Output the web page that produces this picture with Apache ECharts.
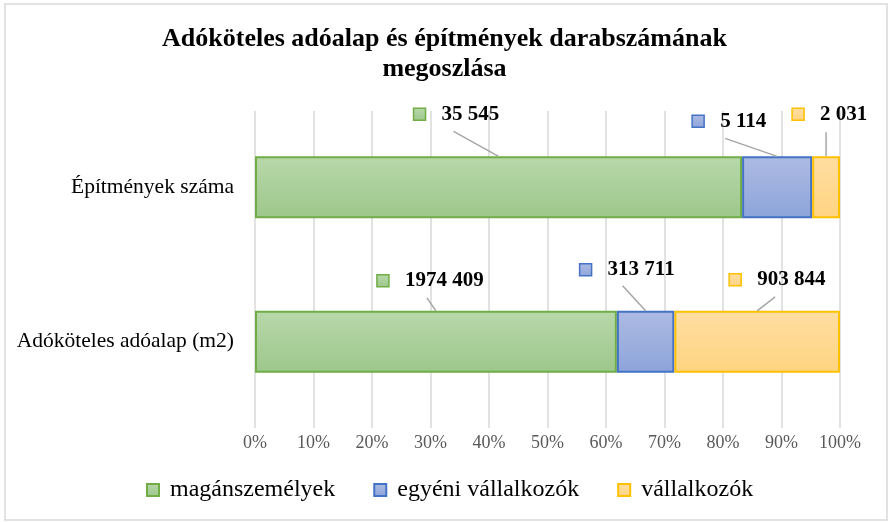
<!DOCTYPE html>
<html>
<head>
<meta charset="utf-8">
<script src="https://cdn.jsdelivr.net/npm/echarts@6/dist/echarts.min.js"></script>
<style>
  html, body { margin: 0; padding: 0; background: #fff; }
  #main { width: 889px; height: 522px; }
</style>
</head>
<body>
<div id="main"></div>
<script>
// adatok
var categories = ['Adóköteles adóalap (m2)', 'Építmények száma'];
var seriesNames = ['magánszemélyek', 'egyéni vállalkozók', 'vállalkozók'];
var maganszemelyek = [1974409, 35545];
var egyeniVallalkozok = [313711, 5114];
var vallalkozok = [903844, 2031];
var percentTicks = { min: 0, max: 100, step: 10 };

var values = [maganszemelyek, egyeniVallalkozok, vallalkozok];

// szinek
var borders = ['#70ad47', '#4472c4', '#ffc000'];
var fills = [['#b8d8aa', '#9dc78b'], ['#adbbe3', '#8da4da'], ['#ffdea2', '#ffd481']];

// cimkek helye a sav tetejehez kepest: vonal kezdete, jelolo negyzet
var calloutLayout = [
  [ { line: [-9, -13], key: [-53, -30] },
    { line: [-23, -25], key: [-60, -41] },
    { line: [18, -14], key: [-22, -31] } ],
  [ { line: [-45, -25], key: [-79, -42] },
    { line: [-52, -18], key: [-79, -35] },
    { line: [0, -24], key: [-28, -42] } ]
];

function grad(i) {
  return {
    type: 'linear', x: 0, y: 0, x2: 0, y2: 1,
    colorStops: [{ offset: 0, color: fills[i][0] }, { offset: 1, color: fills[i][1] }]
  };
}

// "### ###" formatum
function fmt(v) {
  var s = String(v);
  return s.length > 3 ? s.slice(0, -3) + ' ' + s.slice(-3) : s;
}

var totals = categories.map(function (c, ci) {
  return values.reduce(function (a, vals) { return a + vals[ci]; }, 0);
});
var pct = values.map(function (vals) {
  return vals.map(function (v, ci) { return v / totals[ci] * 100; });
});

var calloutData = [];
values.forEach(function (vals, s) {
  vals.forEach(function (v, c) {
    var before = 0;
    for (var k = 0; k < s; k++) before += pct[k][c];
    calloutData.push([before + pct[s][c] / 2, c, s, v]);
  });
});

var serif = '"Liberation Serif", "Times New Roman", serif';

var series = seriesNames.map(function (name, i) {
  return {
    name: name,
    type: 'bar',
    stack: 'total',
    xAxisIndex: 1,
    yAxisIndex: 1,
    barWidth: '40%',
    data: pct[i],
    itemStyle: { color: grad(i), borderColor: borders[i], borderWidth: 2 },
    emphasis: { disabled: true }
  };
});

series.push({
  type: 'custom',
  xAxisIndex: 1,
  yAxisIndex: 1,
  silent: true,
  z: 10,
  data: calloutData,
  renderItem: function (params, api) {
    var c = api.value(1), s = api.value(2);
    var center = api.coord([api.value(0), c]);
    var barH = api.size([0, 1])[1] * 0.4;
    var tx = center[0], ty = center[1] - barH / 2;
    var lay = calloutLayout[c][s];
    var kx = tx + lay.key[0], ky = ty + lay.key[1];
    return {
      type: 'group',
      children: [
        { type: 'line',
          shape: { x1: tx + lay.line[0], y1: ty + lay.line[1], x2: tx, y2: ty },
          style: { stroke: '#a6a6a6', lineWidth: 1.5 } },
        { type: 'rect',
          shape: { x: kx - 6, y: ky - 6, width: 12, height: 12 },
          style: { fill: grad(s), stroke: borders[s], lineWidth: 1.5 } },
        { type: 'text',
          style: { x: kx + 22, y: ky, text: fmt(api.value(3)), font: 'bold 21px ' + serif,
                   fill: '#000', align: 'left', verticalAlign: 'middle' } }
      ]
    };
  }
});

var option = {
  backgroundColor: '#fff',
  animation: false,
  title: {
    text: 'Adóköteles adóalap és építmények darabszámának\nmegoszlása',
    left: 'center',
    top: 24,
    padding: 0,
    textStyle: { fontFamily: serif, fontWeight: 'bold', fontSize: 26, lineHeight: 30, color: '#000' }
  },
  legend: {
    data: seriesNames,
    left: 146,
    top: 478,
    padding: 0,
    icon: 'rect',
    itemWidth: 12,
    itemHeight: 12,
    itemGap: 38,
    selectedMode: false,
    textStyle: { fontFamily: serif, fontSize: 24, color: '#000', padding: [0, 0, 0, 6] }
  },
  grid: [
    { left: 255, right: 49, top: 111, bottom: 94 },
    { left: 255, right: 49, top: 110, height: 309 }
  ],
  xAxis: [
    { type: 'value', gridIndex: 0, min: percentTicks.min, max: percentTicks.max, interval: percentTicks.step,
      axisLine: { show: false }, axisTick: { show: false },
      splitLine: { lineStyle: { color: '#d9d9d9', width: 1.5 } },
      axisLabel: { formatter: '{value}%', margin: 6, fontFamily: serif, fontSize: 18, color: '#595959' } },
    { type: 'value', gridIndex: 1, min: percentTicks.min, max: percentTicks.max, show: false }
  ],
  yAxis: [
    { type: 'category', gridIndex: 0, data: categories, show: false },
    { type: 'category', gridIndex: 1, data: categories,
      axisLine: { show: false }, axisTick: { show: false }, splitLine: { show: false },
      axisLabel: { margin: 21, fontFamily: serif, fontSize: 21.5, color: '#000' } }
  ],
  graphic: [{
    type: 'rect',
    shape: { x: 5, y: 4, width: 882, height: 516 },
    style: { fill: 'none', stroke: '#d9d9d9', lineWidth: 1.5 },
    silent: true
  }],
  series: series
};

var chart = echarts.init(document.getElementById('main'));
chart.setOption(option);
</script>
</body>
</html>
